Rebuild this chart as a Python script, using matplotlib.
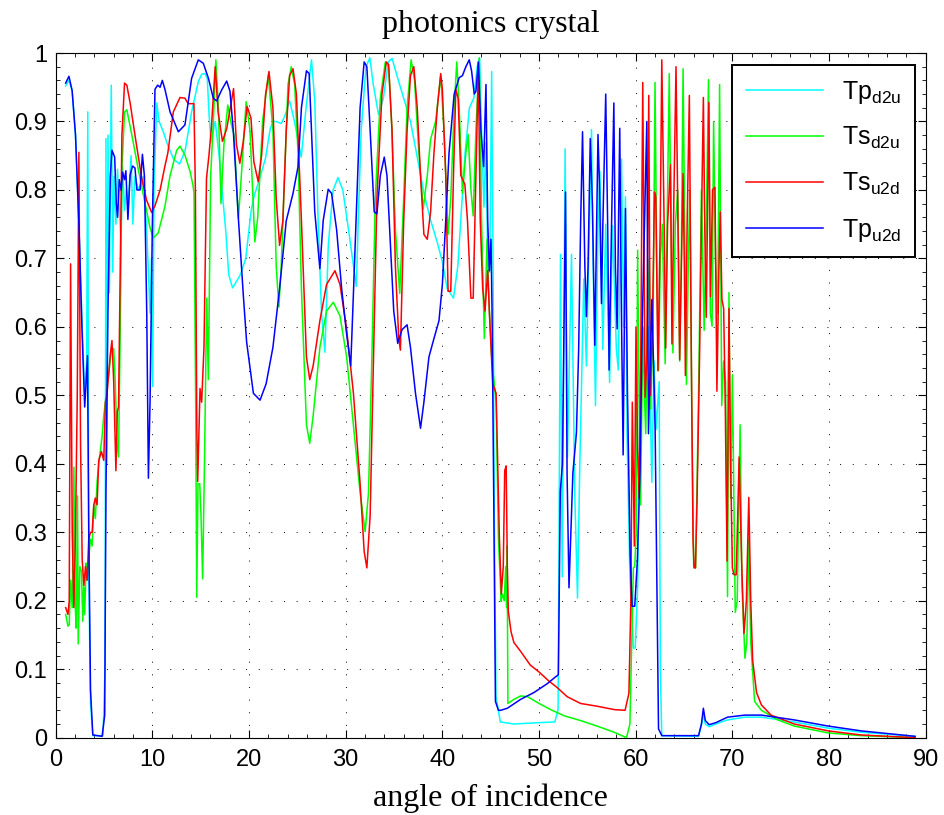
import numpy as np
import matplotlib
matplotlib.use("Agg")
import matplotlib.pyplot as plt
from matplotlib.ticker import MultipleLocator, FuncFormatter

# ---------------- data ----------------
tp_d2u_x = [1.03,1.37,1.7,2.05,2.4,2.74,3.0,3.2,3.32,3.42,3.6,3.84,4.9,5.1,5.2,5.3,5.41,5.55,5.75,5.9,
            6.03,6.23,6.4,6.58,6.75,6.92,7.12,7.3,7.5,7.8,7.98,8.2,8.56,8.84,9.07,9.42,9.76,9.9,10.03,10.17,
            10.45,10.7,11.13,11.6,12.2,12.8,13.37,14.06,14.75,15.1,15.44,15.68,15.85,16.06,16.5,16.9,17.25,17.6,17.9,18.3,
            18.6,19.1,19.66,20.2,20.5,21.0,21.7,22.2,22.5,22.81,23.33,23.68,24.2,24.7,25.4,25.9,26.46,26.8,27.15,27.5,
            27.85,28.2,28.7,29.2,29.7,30.26,30.8,31.1,31.3,31.6,32.1,32.5,32.85,33.4,33.9,34.4,34.8,35.3,36.0,36.7,
            37.4,38.1,38.8,39.5,40.0,40.5,41.15,41.6,41.9,42.35,42.8,43.25,43.6,43.85,44.05,44.3,44.5,44.7,44.9,45.1,
            45.25,45.35,45.55,46.0,47.4,50.0,51.63,51.97,52.22,52.4,52.7,52.94,53.36,53.7,53.98,54.2,54.63,54.9,55.43,55.6,
            55.84,56.1,56.3,56.6,56.9,57.3,57.6,58.0,58.2,58.53,58.75,58.94,59.1,59.4,59.76,59.95,60.2,60.45,60.7,61.0,
            61.35,61.67,61.9,62.1,62.43,62.55,62.7,66.5,66.8,67.0,67.2,67.6,68.3,69.5,71.3,73.0,76.4,79.9,83.3,88.9]
tp_d2u_y = [0.952,0.96,0.945,0.88,0.75,0.6,0.5,0.55,0.914,0.24,0.05,0.003,0.003,0.1,0.875,0.4,0.88,0.65,0.953,0.68,
            0.82,0.75,0.83,0.77,0.73,0.835,0.77,0.8,0.78,0.85,0.75,0.82,0.8,0.81,0.82,0.74,0.62,0.7,0.513,0.8,
            0.927,0.9,0.885,0.865,0.845,0.838,0.856,0.914,0.958,0.969,0.97,0.963,0.914,0.87,0.9,0.851,0.793,0.739,0.676,0.657,
            0.664,0.676,0.7,0.768,0.79,0.812,0.846,0.89,0.9,0.9,0.897,0.907,0.93,0.9,0.848,0.92,0.99,0.93,0.755,0.62,
            0.563,0.72,0.8,0.818,0.8,0.745,0.69,0.659,0.755,0.887,0.98,0.993,0.954,0.91,0.934,0.987,0.992,0.967,0.934,0.9,
            0.848,0.795,0.755,0.722,0.695,0.656,0.642,0.689,0.755,0.854,0.92,0.934,0.98,0.993,0.887,0.775,0.87,0.689,0.68,0.973,
            0.68,0.358,0.06,0.023,0.02,0.022,0.023,0.041,0.706,0.235,0.86,0.41,0.706,0.355,0.204,0.386,0.67,0.543,0.888,0.688,
            0.485,0.748,0.827,0.567,0.75,0.519,0.748,0.567,0.537,0.845,0.6,0.79,0.446,0.235,0.131,0.131,0.22,0.5,0.6,0.53,
            0.6,0.373,0.55,0.45,0.52,0.1,0.003,0.002,0.018,0.035,0.02,0.016,0.02,0.026,0.03,0.03,0.023,0.014,0.008,0.002]

ts_d2u_x = [1.03,1.27,1.4,1.54,1.71,1.88,2.0,2.12,2.26,2.33,2.5,2.67,2.8,2.91,3.0,3.15,3.25,3.42,3.6,3.77,
            3.94,4.1,4.28,4.45,4.8,4.97,5.14,5.3,5.48,5.75,6.0,6.16,6.34,6.5,6.68,6.85,7.12,7.36,7.88,8.56,
            9.25,9.76,10.1,10.6,11.3,11.83,12.52,12.86,13.37,13.9,14.2,14.31,14.48,14.59,14.72,14.9,15.03,15.2,15.38,15.62,
            15.79,16.03,16.31,16.57,16.83,17.1,17.4,17.8,18.1,18.45,18.9,19.2,19.7,20.1,20.6,20.9,21.4,22.0,22.47,22.81,
            23.09,23.33,23.68,24.03,24.37,24.72,25.07,25.42,25.94,26.28,26.63,27.33,28.02,28.72,29.41,30.1,30.8,31.49,32.01,32.36,
            32.71,33.06,33.58,34.1,34.44,34.79,35.14,35.59,36.0,36.35,36.77,37.12,37.57,38.02,38.44,38.78,39.3,39.83,40.17,40.59,
            40.87,41.22,41.49,41.74,42.08,42.43,42.67,42.95,43.19,43.47,43.82,44.06,44.34,44.62,44.86,45.1,45.56,45.8,46.08,46.2,
            46.4,46.55,46.65,46.7,46.78,47.4,48.1,48.8,50.0,51.2,52.6,54.3,56.0,57.76,59.05,59.4,59.6,59.76,59.9,60.05,
            60.2,60.35,60.5,60.75,60.9,61.04,61.2,61.4,61.55,61.8,62.0,62.17,62.36,62.55,62.75,63.05,63.25,63.47,63.65,63.85,
            64.1,64.35,64.55,64.72,64.9,65.1,65.25,65.45,65.6,65.8,66.0,66.2,66.5,66.8,67.08,67.3,67.53,67.72,67.9,68.06,
            68.25,68.48,68.68,68.9,69.1,69.3,69.5,69.65,69.82,70.0,70.3,70.5,70.8,71.0,71.3,71.5,71.7,71.9,72.3,73.0,
            74.7,76.4,79.9,83.3,88.9]
ts_d2u_y = [0.18,0.163,0.165,0.23,0.19,0.395,0.2,0.16,0.353,0.137,0.25,0.243,0.17,0.22,0.18,0.255,0.23,0.262,0.29,0.28,
            0.34,0.32,0.373,0.4,0.44,0.47,0.49,0.515,0.53,0.568,0.568,0.52,0.43,0.41,0.6,0.83,0.914,0.917,0.88,0.829,
            0.78,0.745,0.73,0.737,0.776,0.821,0.858,0.864,0.851,0.827,0.807,0.795,0.49,0.205,0.371,0.371,0.325,0.232,0.391,0.642,
            0.523,0.821,0.9,0.99,0.92,0.78,0.866,0.924,0.9,0.88,0.758,0.82,0.929,0.887,0.724,0.76,0.9,0.967,0.887,0.689,
            0.629,0.689,0.821,0.954,0.98,0.954,0.854,0.656,0.457,0.43,0.47,0.57,0.623,0.636,0.616,0.556,0.457,0.358,0.301,0.358,
            0.556,0.788,0.934,0.987,0.98,0.887,0.742,0.649,0.788,0.92,0.99,0.96,0.854,0.772,0.821,0.874,0.9,0.967,0.887,0.735,
            0.788,0.92,0.987,0.92,0.795,0.854,0.881,0.801,0.762,0.887,0.993,0.755,0.583,0.728,0.623,0.556,0.49,0.291,0.199,0.21,
            0.2,0.25,0.19,0.28,0.05,0.056,0.061,0.06,0.05,0.041,0.032,0.025,0.017,0.008,0.0,0.02,0.15,0.248,0.25,0.3,
            0.712,0.5,0.34,0.6,0.5,0.444,0.6,0.7,0.48,0.6,0.957,0.7,0.536,0.7,0.75,0.546,0.75,0.97,0.75,0.562,
            0.75,0.8,0.55,0.7,0.977,0.7,0.516,0.7,0.8,0.48,0.25,0.248,0.5,0.8,0.595,0.75,0.961,0.62,0.601,0.9,
            0.7,0.62,0.954,0.485,0.55,0.52,0.206,0.65,0.35,0.53,0.183,0.2,0.457,0.22,0.116,0.14,0.29,0.14,0.053,0.04,
            0.026,0.017,0.007,0.003,0.0]

ts_u2d_x = [1.03,1.27,1.4,1.54,1.71,1.88,2.05,2.23,2.4,2.57,2.74,2.91,3.08,3.25,3.42,3.6,3.77,3.94,4.1,4.28,
            4.45,4.73,4.97,5.14,5.3,5.48,5.65,5.82,6.0,6.23,6.37,6.5,6.68,6.85,7.12,7.36,7.7,8.2,8.9,9.4,
            9.93,10.27,10.8,11.3,11.6,12.17,12.86,13.37,13.7,14.3,14.45,14.6,14.69,14.83,14.93,15.1,15.34,15.6,15.85,16.1,
            16.5,16.8,17.25,17.7,18.4,18.7,19.05,19.4,19.8,20.2,20.5,20.95,21.3,21.7,22.06,22.47,22.81,23.16,23.5,23.85,
            24.2,24.55,24.9,25.42,25.94,26.28,26.63,27.33,28.02,28.89,29.41,30.1,30.8,31.49,31.91,32.19,32.53,32.88,33.23,33.75,
            34.2,34.44,34.79,35.14,35.49,35.66,36.0,36.35,36.7,37.05,37.4,37.74,38.09,38.44,38.78,39.13,39.48,39.83,40.0,40.35,
            40.59,40.87,41.15,41.39,41.63,41.91,42.33,42.6,42.95,43.19,43.47,43.72,43.92,44.17,44.41,44.69,44.86,45.21,45.56,45.9,
            46.1,46.3,46.45,46.6,46.72,46.82,47.1,47.4,48.1,49.1,50.0,51.0,51.9,52.9,54.3,56.0,57.8,58.9,59.3,59.5,
            59.65,59.86,60.03,60.2,60.35,60.52,60.73,60.97,61.15,61.35,61.52,61.73,61.94,62.08,62.3,62.54,62.7,62.94,63.1,63.3,
            63.6,63.75,63.96,64.17,64.38,64.55,64.72,64.9,65.04,65.14,65.32,65.55,65.76,65.93,66.04,66.18,66.35,66.6,66.8,67.0,
            67.14,67.3,67.57,67.74,67.95,68.2,68.4,68.6,68.75,68.92,69.1,69.27,69.45,69.65,69.82,70.0,70.17,70.4,70.7,70.95,
            71.2,71.45,71.7,71.9,72.1,72.5,73.0,74.0,76.4,79.9,83.3,88.9]
ts_u2d_y = [0.19,0.18,0.2,0.692,0.3,0.19,0.3,0.5,0.855,0.43,0.26,0.222,0.25,0.23,0.29,0.3,0.3,0.34,0.35,0.34,
            0.405,0.418,0.405,0.49,0.5,0.53,0.56,0.58,0.52,0.39,0.476,0.483,0.69,0.88,0.956,0.953,0.927,0.88,0.817,0.785,
            0.767,0.777,0.8,0.835,0.854,0.914,0.935,0.934,0.926,0.926,0.8,0.45,0.374,0.457,0.51,0.49,0.57,0.817,0.85,0.89,
            0.98,0.914,0.871,0.89,0.948,0.866,0.839,0.87,0.922,0.905,0.841,0.812,0.851,0.938,0.973,0.92,0.788,0.719,0.755,0.887,
            0.967,0.977,0.94,0.755,0.556,0.523,0.543,0.609,0.662,0.682,0.662,0.596,0.503,0.371,0.272,0.248,0.325,0.556,0.788,0.94,
            0.987,0.983,0.887,0.689,0.583,0.566,0.755,0.887,0.967,0.98,0.92,0.821,0.735,0.728,0.768,0.854,0.92,0.97,0.947,0.821,
            0.652,0.652,0.821,0.947,0.934,0.821,0.808,0.755,0.642,0.642,0.821,0.98,0.755,0.656,0.623,0.682,0.623,0.517,0.503,0.291,
            0.21,0.25,0.39,0.397,0.25,0.185,0.155,0.139,0.126,0.106,0.096,0.083,0.073,0.06,0.05,0.046,0.041,0.04,0.065,0.2,
            0.49,0.28,0.6,0.42,0.35,0.55,0.957,0.497,0.55,0.938,0.5,0.6,0.797,0.79,0.536,0.75,0.99,0.75,0.569,0.75,
            0.837,0.575,0.8,0.98,0.75,0.552,0.68,0.824,0.68,0.529,0.75,0.938,0.55,0.29,0.248,0.248,0.35,0.55,0.75,0.935,
            0.75,0.614,0.928,0.644,0.8,0.804,0.506,0.68,0.768,0.64,0.627,0.48,0.258,0.627,0.4,0.248,0.238,0.238,0.41,0.26,
            0.152,0.2,0.351,0.2,0.113,0.066,0.048,0.033,0.02,0.01,0.004,0.0]

tp_u2d_x = [1.03,1.37,1.7,2.05,2.4,2.74,3.0,3.15,3.29,3.42,3.6,3.84,4.8,5.07,5.2,5.4,5.65,5.82,6.1,6.27,
            6.4,6.58,6.78,6.92,7.12,7.26,7.47,7.7,7.95,8.2,8.4,8.73,8.97,9.18,9.42,9.59,9.76,10.0,10.27,10.55,
            10.8,11.03,11.3,11.83,12.69,13.37,14.06,14.75,15.27,15.8,16.3,16.65,17.17,17.69,18.03,18.38,18.9,19.41,19.75,20.45,
            21.14,21.77,22.47,23.16,23.85,24.55,25.07,25.42,25.94,26.22,26.46,26.8,27.33,27.67,28.19,28.54,29.06,29.58,30.1,30.52,
            30.8,31.15,31.49,31.91,32.19,32.53,32.95,33.23,33.58,33.99,34.27,34.62,34.97,35.38,35.83,36.35,36.7,37.22,37.74,38.09,
            38.61,39.13,39.65,40.0,40.35,40.69,41.22,41.74,42.08,42.43,42.78,43.02,43.3,43.47,43.72,43.99,44.27,44.51,44.69,44.86,
            45.03,45.14,45.31,45.49,45.8,46.03,46.72,48.1,49.48,50.86,51.72,52.0,52.2,52.42,52.74,52.9,53.1,53.36,53.5,53.87,
            54.1,54.3,54.5,54.74,54.9,55.07,55.3,55.52,55.77,56.1,56.25,56.46,56.6,56.9,57.1,57.25,57.5,57.74,57.9,58.08,
            58.35,58.5,58.7,58.94,59.15,59.43,59.63,59.9,60.17,60.45,60.69,61.15,61.32,61.67,61.84,62.01,62.19,62.36,62.7,66.5,
            66.8,67.0,67.2,67.6,68.3,69.5,71.3,73.0,76.4,79.9,83.3,88.9]
tp_u2d_y = [0.956,0.966,0.945,0.88,0.75,0.588,0.483,0.52,0.558,0.3,0.07,0.004,0.002,0.033,0.36,0.62,0.82,0.858,0.848,0.78,
            0.76,0.815,0.8,0.826,0.815,0.828,0.757,0.822,0.835,0.832,0.8,0.8,0.852,0.82,0.62,0.379,0.49,0.75,0.947,0.953,
            0.95,0.96,0.947,0.914,0.885,0.895,0.963,0.99,0.985,0.963,0.934,0.93,0.946,0.959,0.944,0.885,0.758,0.646,0.578,0.503,
            0.493,0.517,0.57,0.656,0.755,0.795,0.834,0.92,0.974,0.97,0.887,0.768,0.685,0.755,0.801,0.795,0.742,0.656,0.589,0.543,
            0.649,0.788,0.92,0.987,0.98,0.887,0.768,0.765,0.821,0.848,0.821,0.722,0.623,0.576,0.596,0.603,0.57,0.503,0.452,0.49,
            0.556,0.583,0.609,0.662,0.755,0.854,0.94,0.964,0.967,0.98,0.99,0.974,0.94,0.944,0.987,0.887,0.834,0.954,0.755,0.682,
            0.728,0.623,0.358,0.053,0.04,0.04,0.043,0.056,0.066,0.079,0.089,0.092,0.36,0.4,0.797,0.386,0.219,0.325,0.386,0.446,
            0.567,0.748,0.885,0.688,0.615,0.688,0.875,0.779,0.573,0.881,0.809,0.634,0.748,0.94,0.748,0.537,0.748,0.927,0.688,0.597,
            0.89,0.65,0.413,0.773,0.5,0.265,0.192,0.192,0.258,0.39,0.614,0.9,0.444,0.64,0.549,0.451,0.222,0.013,0.003,0.003,
            0.02,0.043,0.025,0.019,0.022,0.03,0.033,0.033,0.026,0.017,0.01,0.002]

series_labels = [r"$\mathregular{Tp_{d2u}}$", r"$\mathregular{Ts_{d2u}}$",
                 r"$\mathregular{Ts_{u2d}}$", r"$\mathregular{Tp_{u2d}}$"]
x_ticks = list(range(0, 91, 10))
y_ticks = [round(0.1 * i, 1) for i in range(11)]

# ---------------- figure ----------------
plt.rcParams["font.family"] = ["Liberation Sans", "DejaVu Sans"]
plt.rcParams["mathtext.default"] = "regular"

fig = plt.figure(figsize=(9.45, 8.15), dpi=100)
ax = fig.add_axes([55.7 / 945, (815 - 737.7) / 815, 870 / 945, 684.7 / 815])

lw = 1.1
ax.plot(tp_d2u_x, tp_d2u_y, color="#00FFFF", lw=lw, label=series_labels[0])
ax.plot(ts_d2u_x, ts_d2u_y, color="#00FF00", lw=lw, label=series_labels[1])
ax.plot(ts_u2d_x, ts_u2d_y, color="#FF0000", lw=lw, label=series_labels[2])
ax.plot(tp_u2d_x, tp_u2d_y, color="#0000FF", lw=lw, label=series_labels[3])

ax.set_xlim(0, 90)
ax.set_ylim(0, 1)
ax.set_xticks(x_ticks)
ax.set_yticks(y_ticks)
ax.xaxis.set_minor_locator(MultipleLocator(2))
ax.yaxis.set_minor_locator(MultipleLocator(0.02))
ax.yaxis.set_major_formatter(FuncFormatter(lambda v, p: ("%g" % round(v, 1))))
ax.tick_params(which="both", direction="in", top=True, right=True, labelsize=17)
ax.tick_params(which="major", length=6, width=0.8)
ax.tick_params(which="minor", length=3, width=0.6)
ax.tick_params(axis="x", which="major", pad=8)
ax.tick_params(axis="y", which="major", pad=6)
ax.grid(True, which="major", color="black", linestyle=(0, (1, 12)), linewidth=0.7)
for s in ax.spines.values():
    s.set_linewidth(0.8)

serif = ["Liberation Serif", "DejaVu Serif"]
ax.set_title("photonics crystal", family=serif, fontsize=23, pad=15)
ax.set_xlabel("angle of incidence", family=serif, fontsize=23, labelpad=9)

leg = ax.legend(loc="upper right", bbox_to_anchor=(0.9877, 0.9825), borderaxespad=0,
                fontsize=18, handlelength=3.1, handletextpad=0.75, labelspacing=0.78,
                borderpad=0.55, fancybox=False, framealpha=1, edgecolor="black")
leg.get_frame().set_linewidth(1.4)

fig.savefig("out.png", dpi=100)
